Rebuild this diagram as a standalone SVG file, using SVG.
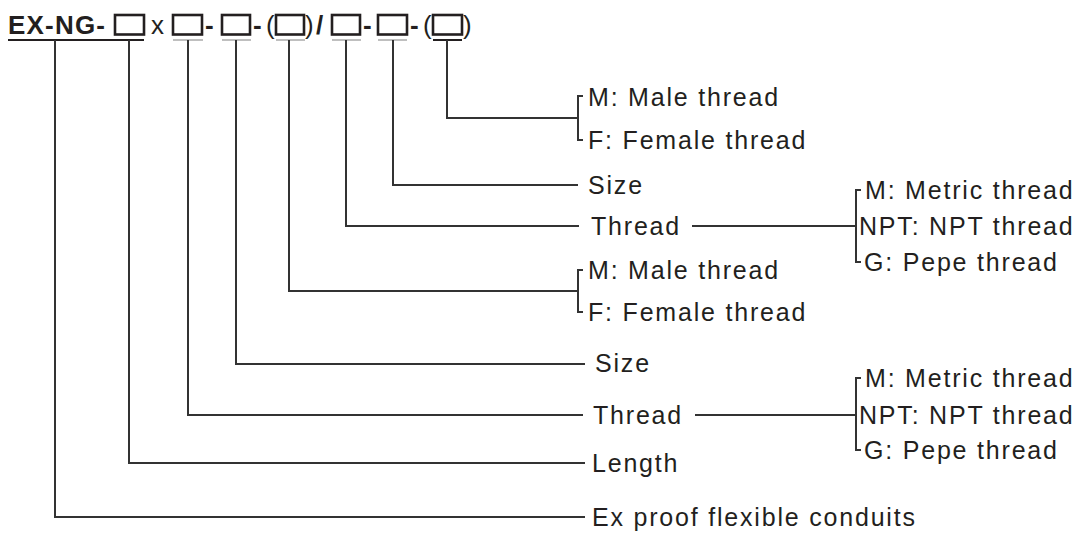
<svg xmlns="http://www.w3.org/2000/svg" width="1085" height="534" viewBox="0 0 1085 534">
<style>
.t{font-family:"Liberation Sans",Arial,sans-serif;font-size:25px;fill:#231f20;letter-spacing:1.8px}
.h{font-family:"Liberation Sans",Arial,sans-serif;font-size:26px;font-weight:bold;fill:#231f20;letter-spacing:1.2px}
.x{font-family:"Liberation Sans",Arial,sans-serif;font-size:26px;fill:#231f20}
.box{fill:none;stroke:#231f20;stroke-width:2.6}
.ln{fill:none;stroke:#333;stroke-width:2}
.ul{stroke:#231f20;stroke-width:2}
.uf{stroke:#aaa;stroke-width:1.5}
</style>
<rect width="1085" height="534" fill="#fff"/>
<g id="code">
<text class="h" x="8" y="34">EX-NG-</text>
<rect class="box" x="115" y="15" width="29" height="19.5"/>
<text class="x" x="151" y="34">x</text>
<rect class="box" x="173" y="15" width="29" height="19.5"/>
<text class="h" x="205" y="34">-</text>
<rect class="box" x="222" y="15" width="28" height="19.5"/>
<text class="h" x="253" y="34">-</text>
<text class="x" x="266" y="34">(</text>
<rect class="box" x="276" y="15" width="28" height="19.5"/>
<text class="x" x="305" y="34">)</text>
<text class="h" x="316" y="34">/</text>
<rect class="box" x="332" y="15" width="28" height="19.5"/>
<text class="h" x="363" y="34">-</text>
<rect class="box" x="378" y="15" width="29" height="19.5"/>
<text class="h" x="410" y="34">-</text>
<text class="x" x="423" y="34">(</text>
<rect class="box" x="433" y="15" width="29" height="19.5"/>
<text class="x" x="463" y="34">)</text>
<line class="ul" x1="8" y1="40" x2="144" y2="40"/>
<line class="uf" x1="173" y1="40" x2="203" y2="40"/>
<line class="uf" x1="222" y1="40" x2="251" y2="40"/>
<line class="uf" x1="276" y1="40" x2="305" y2="40"/>
<line class="uf" x1="332" y1="40" x2="361" y2="40"/>
<line class="uf" x1="378" y1="40" x2="407" y2="40"/>
<line class="ul" x1="433" y1="40" x2="462" y2="40"/>
</g>
<g id="connectors">
<polyline class="ln" points="447,40 447,118 578,118"/>
<polyline class="ln" points="583,96 578,96 578,140 583,140"/>
<polyline class="ln" points="393,40 393,185 578,185"/>
<polyline class="ln" points="346,40 346,226 579,226"/>
<line class="ln" x1="692" y1="226" x2="856" y2="226"/>
<polyline class="ln" points="861,190 856,190 856,262 861,262"/>
<polyline class="ln" points="289,40 289,291 578,291"/>
<polyline class="ln" points="583,270 578,270 578,312 583,312"/>
<polyline class="ln" points="236,40 236,364 585,364"/>
<polyline class="ln" points="188,40 188,415 583,415"/>
<line class="ln" x1="695" y1="415" x2="856" y2="415"/>
<polyline class="ln" points="861,378 856,378 856,450 861,450"/>
<polyline class="ln" points="129,40 129,463 585,463"/>
<polyline class="ln" points="55,40 55,517 585,517"/>
</g>
<g id="n-end-upper">
<text class="t" x="588" y="106">M: Male thread</text>
<text class="t" x="588" y="149">F: Female thread</text>
</g>
<g id="n-size-upper"><text class="t" x="588" y="194">Size</text></g>
<g id="n-thread-upper"><text class="t" x="591" y="235">Thread</text></g>
<g id="n-thread-opts-upper">
<text class="t" x="865" y="199">M: Metric thread</text>
<text class="t" x="859" y="235">NPT: NPT thread</text>
<text class="t" x="864" y="271">G: Pepe thread</text>
</g>
<g id="n-end-lower">
<text class="t" x="588" y="279">M: Male thread</text>
<text class="t" x="588" y="321">F: Female thread</text>
</g>
<g id="n-size-lower"><text class="t" x="595" y="372">Size</text></g>
<g id="n-thread-lower"><text class="t" x="593" y="424">Thread</text></g>
<g id="n-thread-opts-lower">
<text class="t" x="865" y="387">M: Metric thread</text>
<text class="t" x="859" y="424">NPT: NPT thread</text>
<text class="t" x="864" y="459">G: Pepe thread</text>
</g>
<g id="n-length"><text class="t" x="592" y="472">Length</text></g>
<g id="n-product"><text class="t" x="592" y="526">Ex proof flexible conduits</text></g>
</svg>
